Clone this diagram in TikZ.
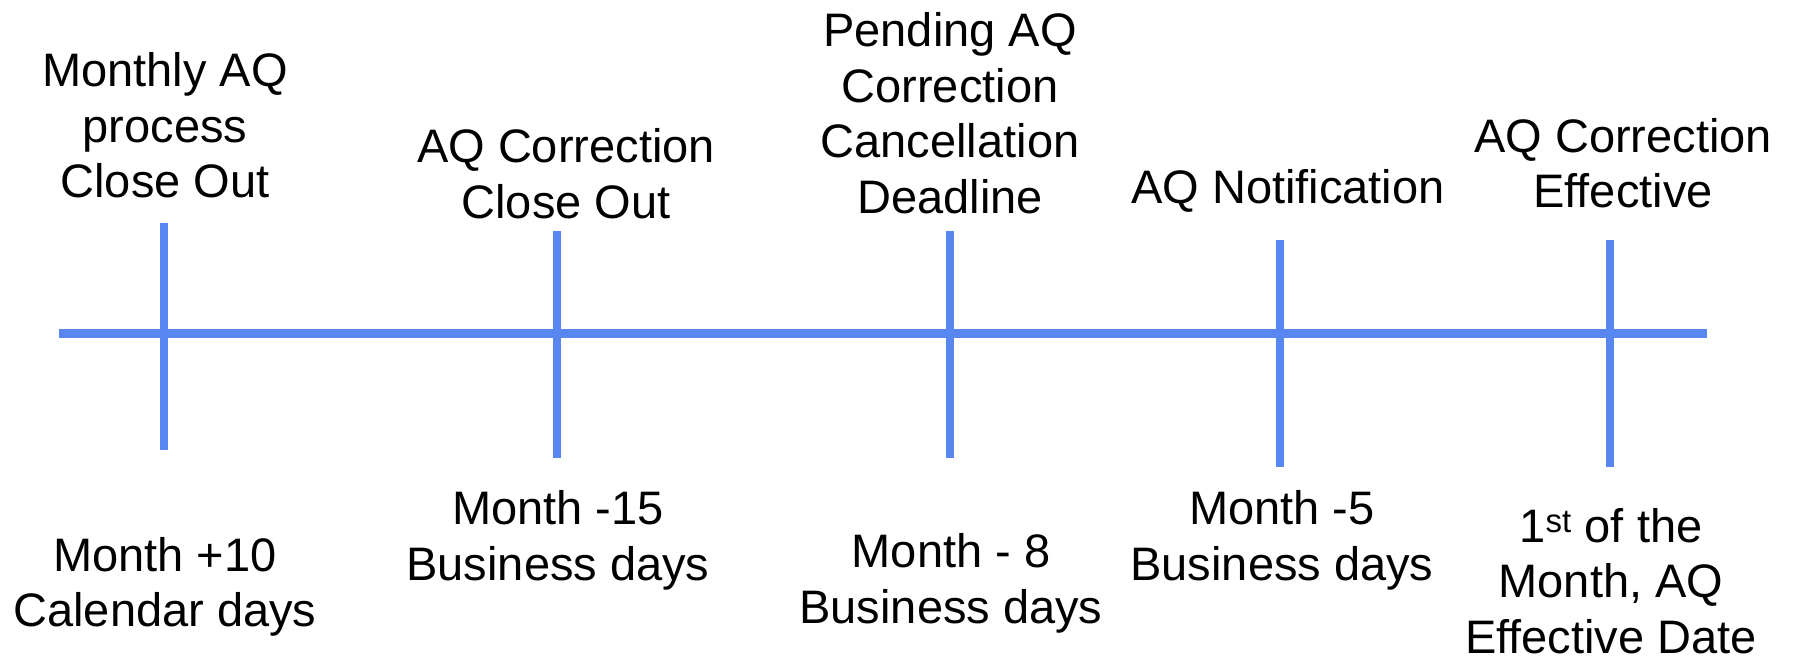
\documentclass[tikz,border=0pt]{standalone}
\usepackage{fontspec}
\setmainfont{Liberation Sans}
\definecolor{tlblue}{RGB}{88,135,242}
\tikzset{
	axisline/.style={tlblue, line width=9pt},
	tickline/.style={tlblue, line width=8pt},
	lbl/.style={align=center, anchor=base, inner sep=0pt, font=\fontsize{47}{55.5}\selectfont},
}

\begin{document}
\begin{tikzpicture}[x=1pt, y=-1pt]
			%%%%% START %%%%%
			\useasboundingbox (0, 0) rectangle (1794, 659);
			
			\coordinate (lineA) at (59, 333);
			\coordinate (lineB) at (1707, 333);
			\draw[axisline] (lineA) -- (lineB);
			
			\draw[tickline] (164, 223) -- (164, 450);
			\draw[tickline] (557, 231) -- (557, 458);
			\draw[tickline] (950, 231) -- (950, 458);
			\draw[tickline] (1280, 240) -- (1280, 467);
			\draw[tickline] (1610, 240) -- (1610, 467);
			
			% labels above the line (placed at last baseline)
			\node[lbl] (closeout) at (165, 197.7) {Monthly AQ\\process\\Close Out};
			\node[lbl] (corrclose) at (566, 218) {AQ Correction\\Close Out};
			\node[lbl] (cancel) at (950, 213) {Pending AQ\\Correction\\Cancellation\\Deadline};
			\node[lbl] (notify) at (1288, 203) {AQ Notification};
			\node[lbl] (effective) at (1623, 207.5) {AQ Correction\\Effective};
			
			% labels below the line
			\node[lbl] (plusten) at (165, 626.7) {Month +10\\Calendar days};
			\node[lbl] (minusfifteen) at (558, 580) {Month -15\\Business days};
			\node[lbl] (minuseight) at (951, 623) {Month - 8\\Business days};
			\node[lbl] (minusfive) at (1282, 580) {Month -5\\Business days};
			\node[lbl] (firstday) at (1611, 653) {1\textsuperscript{st} of the\\Month, AQ\\Effective Date};
			
			%%%%% END %%%%%
		\end{tikzpicture}
\end{document}
